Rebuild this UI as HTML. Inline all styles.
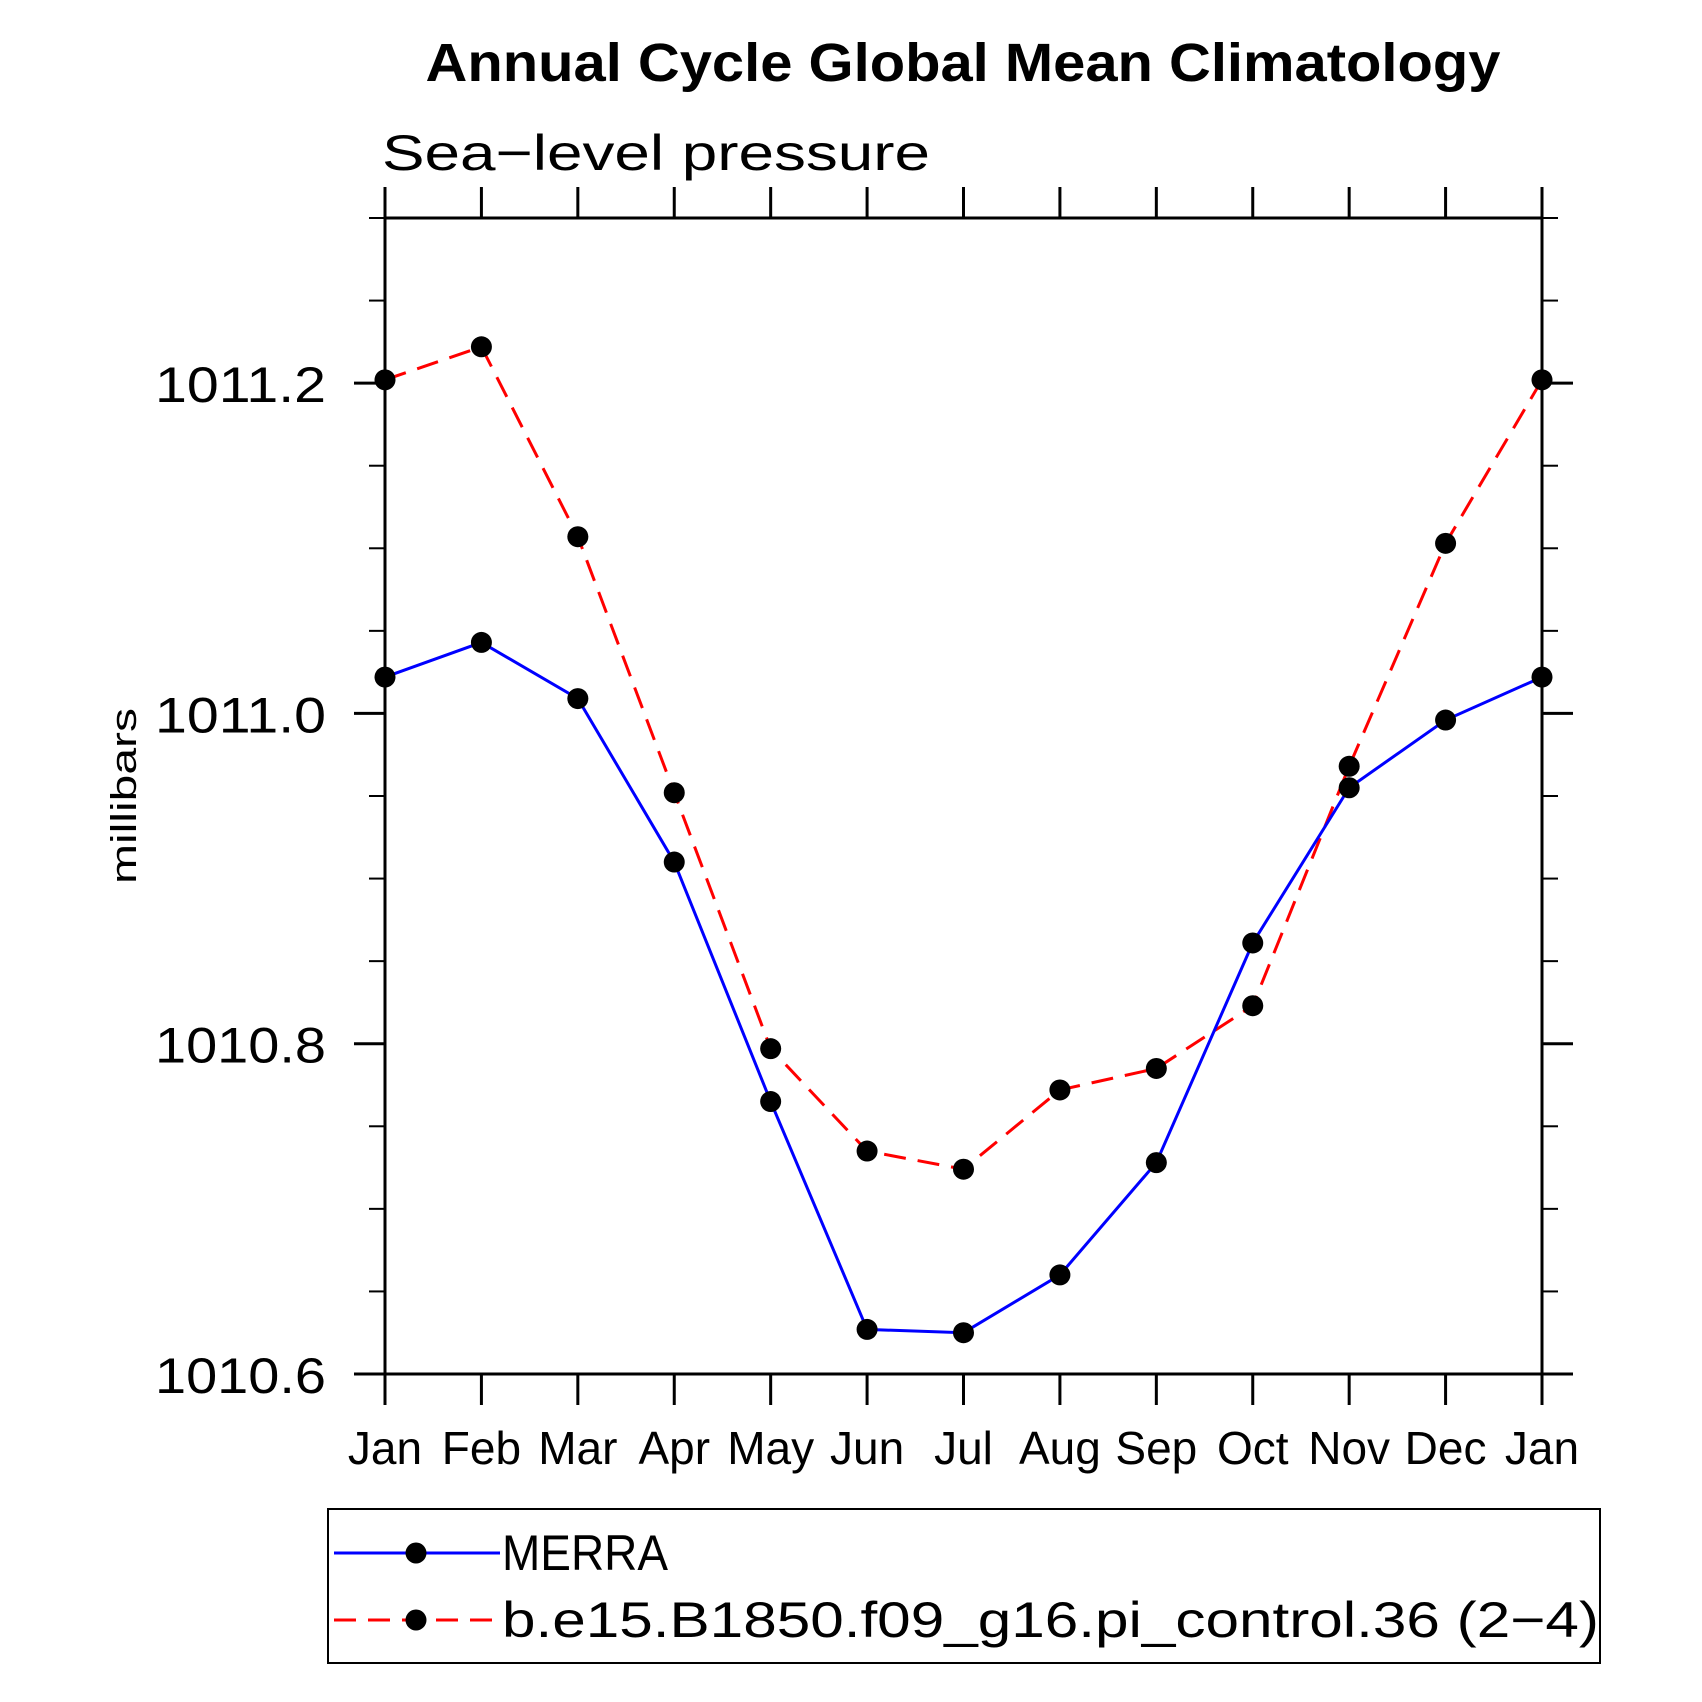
<!DOCTYPE html>
<html><head><meta charset="utf-8"><style>
html,body{margin:0;padding:0;background:#fff}
svg{display:block}
text{font-family:"Liberation Sans",sans-serif}
</style></head><body>
<svg id="chart" width="1702" height="1702" viewBox="0 0 1702 1702" xmlns="http://www.w3.org/2000/svg">
<text x="963" y="81" text-anchor="middle" font-weight="bold" font-size="54" textLength="1075" lengthAdjust="spacingAndGlyphs">Annual Cycle Global Mean Climatology</text>
<text x="382" y="170" font-size="50" font-weight="300" textLength="548" lengthAdjust="spacingAndGlyphs">Sea−level pressure</text>
<text transform="translate(136,796) rotate(-90)" text-anchor="middle" font-size="36" textLength="176" lengthAdjust="spacingAndGlyphs">millibars</text>
<g id="axes"></g>
<g id="series"></g>
<g>
<rect x="328" y="1509" width="1272" height="154" fill="none" stroke="#000" stroke-width="2"/>
<g>
<line x1="334" y1="1553" x2="500" y2="1553" stroke="#0000ff" stroke-width="3"/>
<circle cx="416" cy="1553" r="10.5" fill="#000"/>
<text x="502" y="1570" font-size="50" textLength="166" lengthAdjust="spacingAndGlyphs">MERRA</text>
</g>
<g>
<line x1="334" y1="1620" x2="500" y2="1620" stroke="#ff0000" stroke-width="3" stroke-dasharray="22,12"/>
<circle cx="416" cy="1620" r="10.5" fill="#000"/>
<text x="502" y="1637" font-size="50" textLength="1097" lengthAdjust="spacingAndGlyphs">b.e15.B1850.f09_g16.pi_control.36 (2−4)</text>
</g>
</g>
</svg>
<script>
const months = ["Jan","Feb","Mar","Apr","May","Jun","Jul","Aug","Sep","Oct","Nov","Dec","Jan"];
const merra = [1011.022,1011.043,1011.009,1010.910,1010.765,1010.627,1010.625,1010.660,1010.728,1010.861,1010.955,1010.996,1011.022];
const model = [1011.202,1011.222,1011.107,1010.952,1010.797,1010.735,1010.724,1010.772,1010.785,1010.823,1010.968,1011.103,1011.202];
const yTicks = [1010.6,1010.8,1011.0,1011.2];
const yTickLabels = ["1010.6","1010.8","1011.0","1011.2"];
const yMinor = [1010.65,1010.7,1010.75,1010.85,1010.9,1010.95,1011.05,1011.1,1011.15,1011.25,1011.3];

const L=385,R=1542,T=218,B=1374,YMIN=1010.6,YMAX=1011.3;
function xs(i){return L+(R-L)*i/(months.length-1);}
function ys(v){return B-(v-YMIN)/(YMAX-YMIN)*(B-T);}
const NS="http://www.w3.org/2000/svg";
function mk(tag,attrs,parent){const e=document.createElementNS(NS,tag);for(const k in attrs)e.setAttribute(k,attrs[k]);parent.appendChild(e);return e;}
const axes=document.getElementById('axes'), ser=document.getElementById('series');
const frame=mk('rect',{x:L,y:T,width:R-L,height:B-T,fill:'none',stroke:'#000','stroke-width':3},axes);


months.forEach((m,i)=>{
  const x=xs(i);
  const t1=mk('line',{x1:x,y1:B,x2:x,y2:B+31,stroke:'#000','stroke-width':3},axes);
  
  
  const t2=mk('line',{x1:x,y1:T,x2:x,y2:T-31,stroke:'#000','stroke-width':3},axes);
  
  
  const tx=mk('text',{x:x,y:1464,'text-anchor':'middle','font-size':46},axes);
  tx.textContent=m;
  
  
});
yTicks.forEach((v,i)=>{
  const y=ys(v);
  const a=mk('line',{x1:L-31,y1:y,x2:L,y2:y,stroke:'#000','stroke-width':3},axes);
  
  
  const b=mk('line',{x1:R,y1:y,x2:R+31,y2:y,stroke:'#000','stroke-width':3},axes);
  
  
  const tx=mk('text',{x:326,y:y+19,'text-anchor':'end','font-size':50,textLength:171,lengthAdjust:'spacingAndGlyphs'},axes);
  tx.textContent=yTickLabels[i];
  
  
});
yMinor.forEach(v=>{
  const y=ys(v);
  const a=mk('line',{x1:L-16,y1:y,x2:L,y2:y,stroke:'#000','stroke-width':2},axes);
  
  
  const b=mk('line',{x1:R,y1:y,x2:R+16,y2:y,stroke:'#000','stroke-width':2},axes);
  
  
});
function drawSeries(vals,color,dash,name){
  const pts=vals.map((v,i)=>xs(i)+','+ys(v)).join(' ');
  const pl=mk('polyline',{points:pts,fill:'none',stroke:color,'stroke-width':3},ser);
  if(dash)pl.setAttribute('stroke-dasharray',dash);
  
  
  vals.forEach((v,i)=>{
    const c=mk('circle',{cx:xs(i),cy:ys(v),r:10.5,fill:'#000'},ser);
    
    
  });
}
drawSeries(model,'#ff0000','22,12','model');
drawSeries(merra,'#0000ff',null,'merra');
</script>
</body></html>
